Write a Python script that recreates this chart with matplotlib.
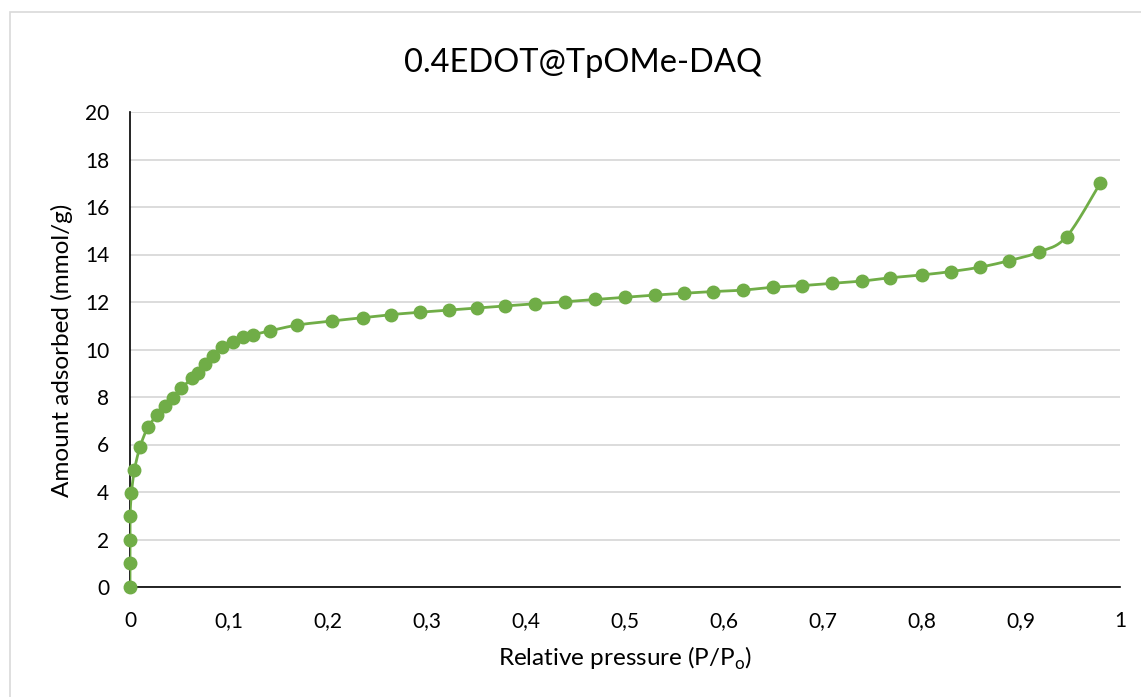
import numpy as np
import matplotlib
matplotlib.use('Agg')
import matplotlib.pyplot as plt
from matplotlib.patches import Rectangle
from matplotlib.ticker import FuncFormatter, MultipleLocator

plt.rcParams['font.family'] = ['Lato', 'DejaVu Sans']
plt.rcParams['mathtext.fontset'] = 'custom'
plt.rcParams['mathtext.rm'] = 'Lato'

# N2 adsorption isotherm, 0.4EDOT@TpOMe-DAQ
rel_pressure = [0, 0, 0, 0, 0.0015, 0.0045, 0.010, 0.018, 0.0275, 0.0355,
                0.043, 0.052, 0.063, 0.069, 0.076, 0.084, 0.093, 0.104, 0.114,
                0.124, 0.141, 0.169, 0.204, 0.235, 0.264, 0.293, 0.322, 0.351,
                0.379, 0.409, 0.439, 0.470, 0.500, 0.530, 0.560, 0.589, 0.619,
                0.649, 0.679, 0.709, 0.739, 0.768, 0.800, 0.829, 0.859, 0.888,
                0.918, 0.946, 0.980]
amount = [0, 1.0, 2.0, 2.97, 3.97, 4.93, 5.88, 6.72, 7.24, 7.62, 7.96, 8.37,
          8.81, 9.02, 9.39, 9.73, 10.12, 10.33, 10.51, 10.62, 10.78, 11.03,
          11.2, 11.34, 11.47, 11.57, 11.66, 11.75, 11.84, 11.93, 12.01, 12.11,
          12.2, 12.29, 12.37, 12.44, 12.5, 12.62, 12.69, 12.79, 12.88, 13.02,
          13.14, 13.28, 13.47, 13.74, 14.1, 14.75, 17.0]

GREEN = '#70AD47'
GRID = '#d9d9d9'


def smooth_curve(x, y, sx, sy, n=20):
    """Catmull-Rom spline through the points, computed in scaled coordinates."""
    pts = np.column_stack([np.asarray(x) * sx, np.asarray(y) * sy])
    pts = np.vstack([pts[0], pts, pts[-1]])
    out = []
    t = np.linspace(0, 1, n, endpoint=False)[:, None]
    for i in range(1, len(pts) - 2):
        p0, p1, p2, p3 = pts[i - 1], pts[i], pts[i + 1], pts[i + 2]
        seg = 0.5 * ((2 * p1) + (-p0 + p2) * t
                     + (2 * p0 - 5 * p1 + 4 * p2 - p3) * t ** 2
                     + (-p0 + 3 * p1 - 3 * p2 + p3) * t ** 3)
        out.append(seg)
    out.append(pts[-2][None, :])
    out = np.vstack(out)
    return out[:, 0] / sx, out[:, 1] / sy


def comma_fmt(v, _):
    if abs(v - round(v)) < 1e-9:
        return f'{int(round(v))}'
    return f'{v:.1f}'.replace('.', ',')


W, H = 1141, 697
fig = plt.figure(figsize=(W / 100, H / 100), dpi=100)
fig.patches.append(Rectangle((10 / W, -0.01), 1.02, (H - 12) / H + 0.01,
                             transform=fig.transFigure, fill=False,
                             edgecolor=GRID, linewidth=1.2))

ax = fig.add_axes([130 / W, (H - 587) / H, 990 / W, 475 / H])
ax.set_xlim(0, 1)
ax.set_ylim(0, 20)

xs, ys = smooth_curve(rel_pressure, amount, 990, 475 / 20)
ax.plot(xs, ys, color=GREEN, linewidth=2.0, zorder=3)
ax.plot(rel_pressure, amount, 'o', color=GREEN, markersize=9, zorder=4,
        clip_on=False)

ax.yaxis.set_major_locator(MultipleLocator(2))
ax.xaxis.set_major_locator(MultipleLocator(0.1))
ax.xaxis.set_major_formatter(FuncFormatter(comma_fmt))
ax.grid(axis='y', color=GRID, linewidth=1.3)
ax.set_axisbelow(True)
for side in ('top', 'right'):
    ax.spines[side].set_visible(False)
for side in ('left', 'bottom'):
    ax.spines[side].set_color('black')
    ax.spines[side].set_linewidth(1.2)
ax.tick_params(length=0, labelsize=15, colors='#000000')
ax.tick_params(axis='y', pad=15)
ax.tick_params(axis='x', pad=17)

fig.text(583 / W, 1 - 72 / H, '0.4EDOT@TpOMe-DAQ', fontsize=23.5,
         ha='center', va='baseline')
fig.text(625 / W, 1 - 666 / H, r'Relative pressure (P/P$_\mathrm{o}$)',
         fontsize=17.5, ha='center', va='baseline')
fig.text(62 / W, 1 - 350 / H, 'Amount adsorbed (mmol/g)', fontsize=17.5,
         rotation=90, ha='center', va='center')

fig.savefig('out.png', dpi=100)
